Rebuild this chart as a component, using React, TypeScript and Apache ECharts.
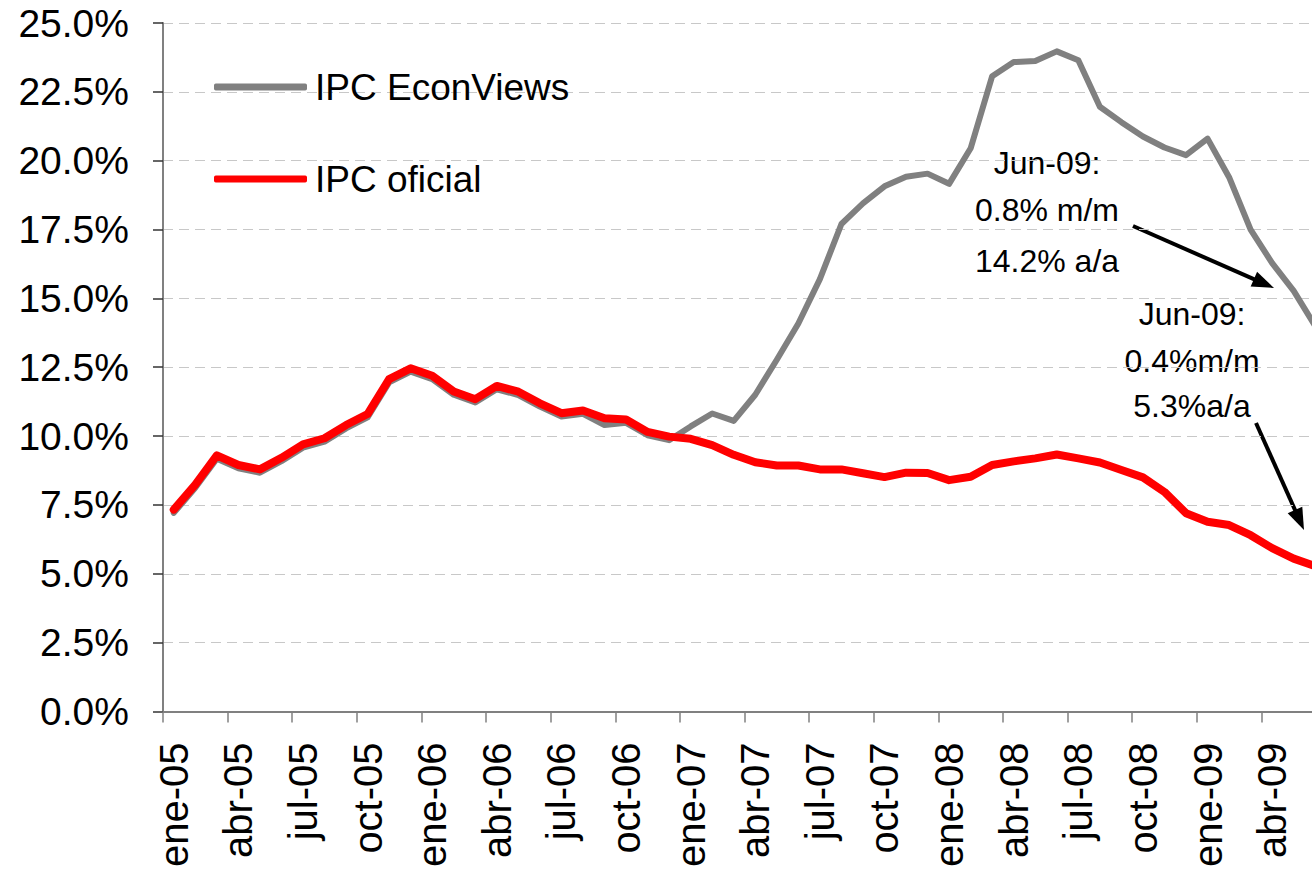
import React, { useEffect, useRef } from "react";
import * as echarts from "echarts";

const months = [
  "ene-05", "feb-05", "mar-05", "abr-05", "may-05", "jun-05", "jul-05", "ago-05", "sep-05", "oct-05", "nov-05", "dic-05",
  "ene-06", "feb-06", "mar-06", "abr-06", "may-06", "jun-06", "jul-06", "ago-06", "sep-06", "oct-06", "nov-06", "dic-06",
  "ene-07", "feb-07", "mar-07", "abr-07", "may-07", "jun-07", "jul-07", "ago-07", "sep-07", "oct-07", "nov-07", "dic-07",
  "ene-08", "feb-08", "mar-08", "abr-08", "may-08", "jun-08", "jul-08", "ago-08", "sep-08", "oct-08", "nov-08", "dic-08",
  "ene-09", "feb-09", "mar-09", "abr-09", "may-09", "jun-09",
];

const ipcEconViews = [
  7.21, 8.12, 9.18, 8.83, 8.67, 9.09, 9.58, 9.8, 10.28, 10.68, 11.95, 12.34,
  12.07, 11.5, 11.22, 11.7, 11.49, 11.07, 10.71, 10.81, 10.4, 10.48, 10.03, 9.85,
  10.35, 10.82, 10.55, 11.5, 12.77, 14.09, 15.7, 17.7, 18.45, 19.07, 19.42, 19.53,
  19.16, 20.45, 23.07, 23.58, 23.62, 23.97, 23.65, 21.96, 21.4, 20.88, 20.48, 20.2,
  20.8, 19.4, 17.5, 16.28, 15.27, 14.0,
];

const ipcOficial = [
  7.33, 8.24, 9.3, 8.95, 8.79, 9.21, 9.7, 9.92, 10.4, 10.8, 12.07, 12.46,
  12.19, 11.62, 11.34, 11.82, 11.61, 11.19, 10.83, 10.93, 10.65, 10.6, 10.15, 9.98,
  9.9, 9.67, 9.32, 9.05, 8.93, 8.93, 8.79, 8.79, 8.65, 8.51, 8.67, 8.66,
  8.4, 8.52, 8.95, 9.08, 9.19, 9.33, 9.19, 9.04, 8.77, 8.5, 7.97, 7.2,
  6.89, 6.77, 6.4, 5.93, 5.55, 5.28,
];

const seriesNames = ["IPC EconViews", "IPC oficial"];
const noteEconViews = ["Jun-09:", "0.8% m/m", "14.2% a/a"];
const noteOficial = ["Jun-09:", "0.4%m/m", "5.3%a/a"];

const FONT = "'Liberation Sans', Arial, sans-serif";

function arrow(x1: number, y1: number, x2: number, y2: number) {
  const dx = x2 - x1;
  const dy = y2 - y1;
  const len = Math.sqrt(dx * dx + dy * dy);
  const ux = dx / len;
  const uy = dy / len;
  const hl = 22;
  const hw = 8;
  const bx = x2 - ux * hl;
  const by = y2 - uy * hl;
  return [
    {
      type: "line",
      shape: { x1, y1, x2: x2 - ux * 14, y2: y2 - uy * 14 },
      style: { stroke: "#000", lineWidth: 4 },
      silent: true,
    },
    {
      type: "polygon",
      shape: {
        points: [
          [x2, y2],
          [bx - uy * hw, by + ux * hw],
          [bx + uy * hw, by - ux * hw],
        ],
      },
      style: { fill: "#000" },
      silent: true,
    },
  ];
}

function note(lines: string[], cx: number, ys: number[]) {
  return lines.map((t, i) => ({
    type: "text",
    x: cx,
    y: ys[i],
    style: {
      text: t,
      fontFamily: FONT,
      fontSize: 32,
      fill: "#000",
      align: "center",
      verticalAlign: "middle",
    },
    silent: true,
  }));
}

export default function App() {
  const ref = useRef<HTMLDivElement>(null);

  useEffect(() => {
    document.body.style.margin = "0";
    const chart = echarts.init(ref.current!, null, { renderer: "svg" });
    chart.setOption({
      animation: false,
      backgroundColor: "#fff",
      grid: { left: 163, right: 14, top: 23, bottom: 154, containLabel: false },
      legend: {
        data: seriesNames,
        orient: "vertical",
        left: 209,
        top: 62,
        itemWidth: 93,
        itemHeight: 7,
        itemGap: 52,
        icon: "roundRect",
        textStyle: {
          fontFamily: FONT,
          fontSize: 37,
          color: "#000",
          lineHeight: 40,
          padding: [0, 0, 0, 3],
        },
      },
      xAxis: {
        type: "category",
        data: months,
        boundaryGap: true,
        axisLine: { lineStyle: { color: "#808080", width: 2 } },
        axisTick: {
          show: true,
          interval: 2,
          length: 11,
          lineStyle: { color: "#808080", width: 1.5 },
        },
        axisLabel: {
          interval: 2,
          rotate: 90,
          margin: 31,
          fontFamily: FONT,
          fontSize: 40,
          color: "#000",
        },
        splitLine: { show: false },
      },
      yAxis: {
        type: "value",
        min: 0,
        max: 25,
        interval: 2.5,
        axisLine: { show: true, lineStyle: { color: "#808080", width: 2 } },
        axisTick: { show: true, length: 10, lineStyle: { color: "#333", width: 1.5 } },
        axisLabel: {
          margin: 34,
          fontFamily: FONT,
          fontSize: 39,
          color: "#000",
          formatter: (v: number) => v.toFixed(1) + "%",
        },
        splitLine: {
          show: true,
          lineStyle: { color: "#c8c8c8", width: 1, type: [10, 6] },
        },
      },
      series: [
        {
          name: seriesNames[0],
          type: "line",
          data: ipcEconViews,
          symbol: "none",
          color: "#808080",
          lineStyle: { color: "#808080", width: 6, cap: "round", join: "round" },
        },
        {
          name: seriesNames[1],
          type: "line",
          data: ipcOficial,
          symbol: "none",
          color: "#ff0000",
          lineStyle: { color: "#ff0000", width: 8, cap: "round", join: "round" },
        },
      ],
      graphic: [
        ...note(noteEconViews, 1047, [163, 210, 261]),
        ...arrow(1133, 226, 1274, 288),
        ...note(noteOficial, 1192, [314, 361, 406]),
        ...arrow(1256, 423, 1304, 530),
      ],
    });
    return () => chart.dispose();
  }, []);

  return (
    <div
      style={{
        position: "fixed",
        left: 0,
        top: 0,
        width: 1312,
        height: 870,
        overflow: "hidden",
        background: "#fff",
      }}
    >
      <div ref={ref} style={{ width: 1340, height: 870 }} />
    </div>
  );
}
